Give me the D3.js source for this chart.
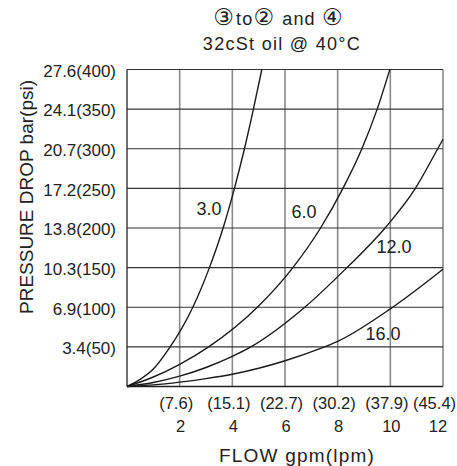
<!DOCTYPE html>
<html>
<head>
<meta charset="utf-8">
<script src="https://cdn.jsdelivr.net/npm/d3@7"></script>
<style>
  body { margin: 0; background: #fff; }
  text { font-family: "Liberation Sans", Arial, sans-serif; fill: #222; }
  .axis path, .axis line { display: none; }
</style>
</head>
<body>
<div id="chart"></div>
<script>
(function () {

  // Data
  const psiTicks = [50, 100, 150, 200, 250, 300, 350, 400]
  const barTicks = ["3.4", "6.9", "10.3", "13.8", "17.2", "20.7", "24.1", "27.6"]
  const gpmTicks = [2, 4, 6, 8, 10, 12]
  const lpmTicks = ["7.6", "15.1", "22.7", "30.2", "37.9", "45.4"]

  // curves: [gpm, psi]
  const curve3 = [[0,0],[0.5,9],[1,22],[1.6,48],[2.5,100],[3.13,150],[3.65,200],[4.08,250],[4.46,300],[4.8,350],[5.12,400]]
  const curve6 = [[0,0],[1,12],[2,28],[3.1,50],[4.95,100],[6.3,150],[7.35,200],[8.2,250],[8.92,300],[9.5,350],[9.98,400]]
  const curve12 = [[0,0],[1,5],[2,13],[3,24],[4,38],[4.6,48],[6.75,100],[8.35,150],[9.8,200],[10.95,250],[11.8,300],[12,312]]
  const curve16 = [[0,0],[1,2],[2,5.5],[3,10],[4,15.5],[5,23],[6,32.5],[7.3,47.5],[8,57],[10,98],[12,148]]

  const curveNames = ["3.0", "6.0", "12.0", "16.0"]
  // label anchor in data units [gpm, psi]
  const labelAt = [[3.11, 216], [6.72, 212], [10.14, 169], [9.72, 59]]

  // Margin convention
  const margin = { top: 69.5, right: 14, bottom: 79.5, left: 127 }
  const width = 457 - margin.left - margin.right
  const height = 466 - margin.top - margin.bottom

  const xScale = d3.scaleLinear().domain([0, 12]).range([0, width])
  const yScale = d3.scaleLinear().domain([0, 400]).range([height, 0])

  const root = d3.select("#chart").append("svg")
    .attr("width", 457)
    .attr("height", 466)

  const svg = root.append("g")
    .attr("transform", "translate(" + margin.left + "," + margin.top + ")")

  // Grid
  svg.selectAll(".vgrid")
    .data(gpmTicks)
    .join("line")
    .attr("class", "vgrid")
    .attr("x1", d => xScale(d)).attr("x2", d => xScale(d))
    .attr("y1", 0).attr("y2", height)
    .attr("stroke", "#8a8a8a")
    .attr("stroke-width", 1.6)

  svg.selectAll(".hgrid")
    .data(psiTicks)
    .join("line")
    .attr("class", "hgrid")
    .attr("x1", 0).attr("x2", width)
    .attr("y1", d => yScale(d)).attr("y2", d => yScale(d))
    .attr("stroke", "#333")
    .attr("stroke-width", 1.1)

  // frame left + bottom
  svg.append("line")
    .attr("x1", 0).attr("x2", 0).attr("y1", 0).attr("y2", height)
    .attr("stroke", "#222").attr("stroke-width", 1.3)
  svg.append("line")
    .attr("x1", 0).attr("x2", width).attr("y1", height).attr("y2", height)
    .attr("stroke", "#222").attr("stroke-width", 1.3)

  // Curves
  const line = d3.line()
    .x(d => xScale(d[0]))
    .y(d => yScale(d[1]))
    .curve(d3.curveMonotoneX)

  svg.selectAll(".curve")
    .data([curve3, curve6, curve12, curve16])
    .join("path")
    .attr("class", "curve")
    .attr("d", line)
    .attr("fill", "none")
    .attr("stroke", "#1a1a1a")
    .attr("stroke-width", 1.4)

  svg.selectAll(".clabel")
    .data(curveNames)
    .join("text")
    .attr("class", "clabel")
    .attr("x", (d, i) => xScale(labelAt[i][0]))
    .attr("y", (d, i) => yScale(labelAt[i][1]))
    .attr("text-anchor", "middle")
    .style("font-size", "18px")
    .text(d => d)

  // Y axis
  const yAxis = d3.axisLeft(yScale)
    .tickValues(psiTicks)
    .tickSize(0)
    .tickPadding(11)
    .tickFormat((d, i) => barTicks[i] + "(" + d + ")")
  svg.append("g")
    .attr("class", "axis")
    .call(yAxis)
    .selectAll("text")
    .style("font-size", "17px")
    .attr("dy", "0.4em")

  // X axis (two lines), last column pulled in to fit
  const xAxis = d3.axisBottom(xScale)
    .tickValues(gpmTicks)
    .tickSize(0)
    .tickFormat("")
  const xg = svg.append("g")
    .attr("class", "axis")
    .attr("transform", "translate(0," + height + ")")
    .call(xAxis)
  xg.selectAll(".tick text").remove()
  xg.selectAll(".tick").each(function (d, i) {
    const last = i === gpmTicks.length - 1
    const t = d3.select(this).append("text")
      .attr("text-anchor", "middle")
      .style("font-size", "16.5px")
    t.append("tspan").attr("x", last ? -9 : -4).attr("y", 22.5).text("(" + lpmTicks[i] + ")")
    t.append("tspan").attr("x", last ? -5.5 : 0.5).attr("y", 45.5).text(d)
  })

  // Axis titles
  root.append("text")
    .attr("x", 297)
    .attr("y", 461.5)
    .attr("text-anchor", "middle")
    .style("font-size", "19px")
    .style("letter-spacing", "1.2px")
    .text("FLOW gpm(lpm)")

  root.append("text")
    .attr("transform", "translate(33,197) rotate(-90)")
    .attr("text-anchor", "middle")
    .style("font-size", "19px")
    .text("PRESSURE DROP bar(psi)")

  // Title
  const t1 = root.append("text")
    .attr("x", 279)
    .attr("y", 25)
    .attr("text-anchor", "middle")
    .style("font-size", "18px")
  const parts = [["③", true], ["to", false], ["②", true], [" and ", false], ["④", true]]
  parts.forEach(p => {
    const s = t1.append("tspan").text(p[0])
    if (p[1]) s.style("font-family", "'DejaVu Sans', 'Noto Sans CJK JP', sans-serif").style("font-size", "23px").style("letter-spacing", "2px")
    else s.style("letter-spacing", "1.2px")
  })

  root.append("text")
    .attr("x", 282)
    .attr("y", 49.5)
    .attr("text-anchor", "middle")
    .style("font-size", "18px")
    .style("letter-spacing", "1.3px")
    .text("32cSt oil @ 40°C")

})();
</script>
</body>
</html>
